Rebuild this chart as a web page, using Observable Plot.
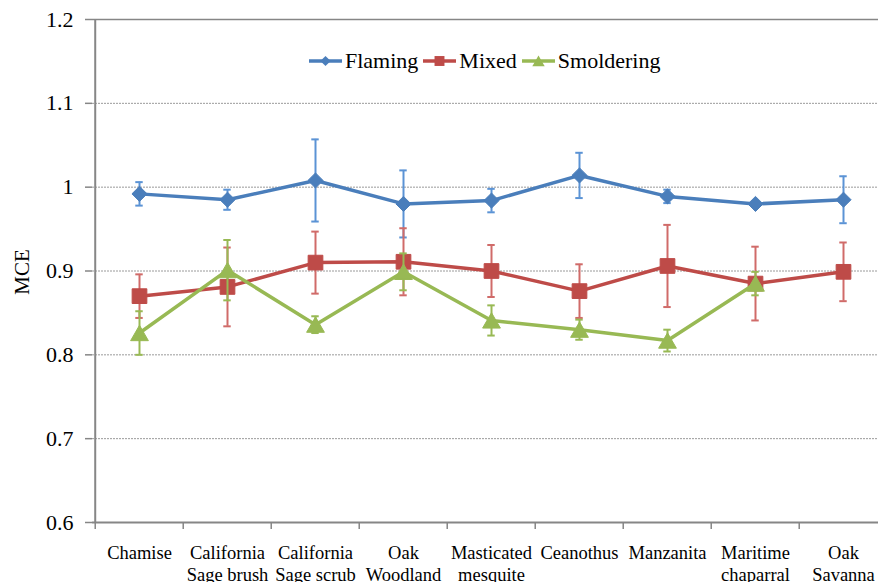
<!DOCTYPE html>
<html>
<head>
<meta charset="utf-8">
<script src="https://cdn.jsdelivr.net/npm/d3@7"></script>
<script src="https://cdn.jsdelivr.net/npm/@observablehq/plot@0.6"></script>
<style>
  body { margin: 0; background: #fff; }
  #wrap { position: relative; width: 878px; height: 582px; overflow: hidden; background: #fff;
          font-family: "Liberation Serif", "DejaVu Serif", serif; color: #000; }
  #ylab { position: absolute; left: 22px; top: 272px; transform: translate(-50%, -50%) rotate(-90deg);
          font-size: 21px; white-space: nowrap; font-family: "Liberation Serif", "DejaVu Serif", serif; }
  #legend { position: absolute; left: 309px; top: 47px; height: 28px; display: flex; align-items: center;
            font-size: 22px; white-space: nowrap; font-family: "Liberation Serif", "DejaVu Serif", serif; }
  .item { display: flex; align-items: center; margin-right: 5px; }
  .item svg { margin-right: 3px; }
  #chart svg text { font-family: "Liberation Serif", "DejaVu Serif", serif; }
</style>
</head>
<body>
<div id="wrap">
  <div id="chart"></div>
  <div id="ylab">MCE</div>
  <div id="legend"></div>
</div>
<script>
// ---- data ----
const categories = ["Chamise", "California\nSage brush", "California\nSage scrub", "Oak\nWoodland",
  "Masticated\nmesquite", "Ceanothus", "Manzanita", "Maritime\nchaparral", "Oak\nSavanna"];
const seriesNames = ["Flaming", "Mixed", "Smoldering"];
const flaming      = [0.992, 0.985, 1.008, 0.980, 0.984, 1.014, 0.989, 0.980, 0.985];
const flamingErr   = [0.014, 0.012, 0.049, 0.040, 0.014, 0.027, 0.008, 0.003, 0.028];
const mixed        = [0.870, 0.881, 0.910, 0.911, 0.900, 0.876, 0.906, 0.885, 0.899];
const mixedErr     = [0.026, 0.047, 0.037, 0.040, 0.031, 0.032, 0.049, 0.044, 0.035];
const smoldering   = [0.826, 0.901, 0.836, 0.899, 0.841, 0.830, 0.817, 0.885, null];
const smolderingErr= [0.026, 0.036, 0.010, 0.022, 0.018, 0.012, 0.013, 0.014, null];
const yTicks = [0.6, 0.7, 0.8, 0.9, 1.0, 1.1, 1.2];

// ---- styles ----
const styles = {
  Flaming:    {color: "#4a7ebb", err: "#5b93d5", symbol: "diamond2", r: 6.8, dy: 0,   legR: 4.6},
  Mixed:      {color: "#be4b48", err: "#d06b69", symbol: "square",   r: 8.3, dy: 0,   legR: 5.6},
  Smoldering: {color: "#98b954", err: "#98b954", symbol: "triangle", r: 6.6, dy: 2.5, legR: 4.6}
};
const valuesBy = {Flaming: [flaming, flamingErr], Mixed: [mixed, mixedErr], Smoldering: [smoldering, smolderingErr]};

const x0 = 92, x1 = 889;
const bw = (x1 - x0) / categories.length;
const capInset = (bw - 8) / 2;
const axisColor = "#868686";
const serif = "Liberation Serif, DejaVu Serif, serif";

const marks = [
  Plot.gridY(yTicks.slice(1, -1), {stroke: "#9a9a9a", strokeOpacity: 1, strokeDasharray: "2,1"}),
  Plot.ruleY([yTicks[yTicks.length - 1]], {stroke: axisColor, strokeWidth: 1.5}),
  Plot.ruleY([yTicks[0]], {stroke: axisColor, strokeWidth: 2}),
  Plot.ruleX([categories[0]], {dx: -bw / 2, stroke: axisColor, strokeWidth: 2}),
  Plot.ruleX(categories, {x: d => d, dx: -bw / 2, y1: yTicks[0], y2: yTicks[0], insetBottom: -7, stroke: axisColor, strokeWidth: 1.5}),
  Plot.axisY(yTicks, {tickSize: 7, tickPadding: 12, fontSize: 22, fontFamily: serif, tickFormat: d3.format("~g"),
                      stroke: axisColor, strokeWidth: 1.5, fill: "#000", label: null}),
  Plot.axisX({tickSize: 0, tickPadding: 21, fontSize: 18.5, fontFamily: serif, lineHeight: 1.2, fill: "#000", label: null})
];

for (const name of seriesNames) {
  const [vals, errs] = valuesBy[name];
  const st = styles[name];
  const rows = categories.map((c, i) => ({c, v: vals[i], e: errs[i]})).filter(d => d.v != null);
  marks.push(
    Plot.ruleX(rows, {x: "c", y1: d => d.v - d.e, y2: d => d.v + d.e, stroke: st.err, strokeWidth: 2}),
    Plot.tickY(rows, {x: "c", y: d => d.v - d.e, insetLeft: capInset, insetRight: capInset, stroke: st.err, strokeWidth: 2}),
    Plot.tickY(rows, {x: "c", y: d => d.v + d.e, insetLeft: capInset, insetRight: capInset, stroke: st.err, strokeWidth: 2}),
    Plot.line(rows, {x: "c", y: "v", stroke: st.color, strokeWidth: 3.5}),
    Plot.dot(rows, {x: "c", y: "v", symbol: st.symbol, r: st.r, dy: st.dy, fill: st.color, stroke: st.color, strokeWidth: 1})
  );
}

const chart = Plot.plot({
  width: 878,
  height: 582,
  marginTop: 19,
  marginBottom: 60,
  marginLeft: 92,
  marginRight: 0,
  style: {fontFamily: serif, background: "#fff", overflow: "visible", color: "#000"},
  x: {type: "band", domain: categories, range: [x0, x1], padding: 0, axis: null},
  y: {domain: [yTicks[0], yTicks[yTicks.length - 1]], axis: null},
  marks
});
document.getElementById("chart").appendChild(chart);

// ---- legend ----
const legend = d3.select("#legend");
const symMap = {diamond2: d3.symbolDiamond2, square: d3.symbolSquare, triangle: d3.symbolTriangle};
for (const name of seriesNames) {
  const st = styles[name];
  const item = legend.append("div").attr("class", "item");
  const svg = item.append("svg").attr("width", 33).attr("height", 16);
  svg.append("line").attr("x1", 0).attr("x2", 33).attr("y1", 8).attr("y2", 8)
     .attr("stroke", st.color).attr("stroke-width", 3.5);
  svg.append("path").attr("transform", `translate(16.5,${8 + st.dy * 0.7})`)
     .attr("d", d3.symbol(symMap[st.symbol], Math.PI * st.legR * st.legR)())
     .attr("fill", st.color);
  item.append("span").text(name);
}
</script>
</body>
</html>
